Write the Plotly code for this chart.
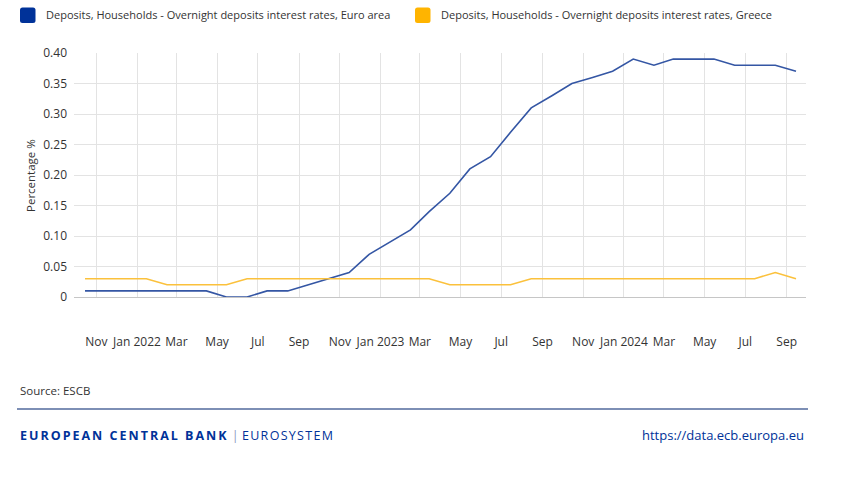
import plotly.graph_objects as go

# ---------------- data ----------------
months = [
    "2021-10", "2021-11", "2021-12",
    "2022-01", "2022-02", "2022-03", "2022-04", "2022-05", "2022-06",
    "2022-07", "2022-08", "2022-09", "2022-10", "2022-11", "2022-12",
    "2023-01", "2023-02", "2023-03", "2023-04", "2023-05", "2023-06",
    "2023-07", "2023-08", "2023-09", "2023-10", "2023-11", "2023-12",
    "2024-01", "2024-02", "2024-03", "2024-04", "2024-05", "2024-06",
    "2024-07", "2024-08", "2024-09",
]
euro_area = [
    0.01, 0.01, 0.01,
    0.01, 0.01, 0.01, 0.01, 0.00, 0.00,
    0.01, 0.01, 0.02, 0.03, 0.04, 0.07,
    0.09, 0.11, 0.14, 0.17, 0.21, 0.23,
    0.27, 0.31, 0.33, 0.35, 0.36, 0.37,
    0.39, 0.38, 0.39, 0.39, 0.39, 0.38,
    0.38, 0.38, 0.37,
]
greece = [
    0.03, 0.03, 0.03,
    0.03, 0.02, 0.02, 0.02, 0.02, 0.03,
    0.03, 0.03, 0.03, 0.03, 0.03, 0.03,
    0.03, 0.03, 0.03, 0.02, 0.02, 0.02,
    0.02, 0.03, 0.03, 0.03, 0.03, 0.03,
    0.03, 0.03, 0.03, 0.03, 0.03, 0.03,
    0.03, 0.04, 0.03,
]
series_names = [
    "Deposits, Households - Overnight deposits interest rates, Euro area",
    "Deposits, Households - Overnight deposits interest rates, Greece",
]
x_tick_months = [
    "2021-11", "2022-01", "2022-03", "2022-05", "2022-07", "2022-09",
    "2022-11", "2023-01", "2023-03", "2023-05", "2023-07", "2023-09",
    "2023-11", "2024-01", "2024-03", "2024-05", "2024-07", "2024-09",
]
x_tick_labels = [
    "Nov", "Jan 2022", "Mar", "May", "Jul", "Sep",
    "Nov", "Jan 2023", "Mar", "May", "Jul", "Sep",
    "Nov", "Jan 2024", "Mar", "May", "Jul", "Sep",
]
y_tick_values = [0, 0.05, 0.10, 0.15, 0.20, 0.25, 0.30, 0.35, 0.40]
y_tick_labels = ["0", "0.05", "0.10", "0.15", "0.20", "0.25", "0.30", "0.35", "0.40"]

# ---------------- styling ----------------
W, H = 848, 501
L, R, T, B = 74, 42, 53, 204
BLUE = "#003299"
GOLD = "#FFB400"
BLUE_LINE = "#3456a4"
GOLD_LINE = "#fbc13c"
FONT = "Open Sans"
TXT = "#333333"


def px_x(px):
    return (px - L) / (W - L - R)


def px_y(py):
    return (H - B - py) / (H - T - B)


x_dates = [m + "-15" for m in months]
tick_dates = [m + "-01" for m in x_tick_months]

fig = go.Figure()
fig.add_trace(go.Scatter(x=x_dates, y=euro_area, mode="lines", name=series_names[0],
                         line=dict(color=BLUE_LINE, width=1.6)))
fig.add_trace(go.Scatter(x=x_dates, y=greece, mode="lines", name=series_names[1],
                         line=dict(color=GOLD_LINE, width=1.6)))

fig.update_layout(
    width=W, height=H,
    margin=dict(l=L, r=R, t=T, b=B, pad=0),
    paper_bgcolor="white", plot_bgcolor="white",
    font=dict(family=FONT, size=12, color=TXT),
    showlegend=False,
)
fig.update_xaxes(
    type="date",
    range=["2021-09-28 12:00", "2024-09-30"],
    tickvals=tick_dates, ticktext=x_tick_labels,
    showgrid=True, gridcolor="#e3e3e3", gridwidth=1,
    showline=True, linecolor="#c6c6c6", linewidth=1,
    ticks="", ticklabelstandoff=34,
    tickfont=dict(family=FONT, size=12, color=TXT),
    zeroline=False, automargin=False,
)
fig.update_yaxes(
    range=[0, 0.4],
    tickvals=y_tick_values, ticktext=y_tick_labels,
    showgrid=True, gridcolor="#e3e3e3", gridwidth=1,
    zeroline=False, showline=False, ticks="", ticklabelstandoff=6,
    tickfont=dict(family=FONT, size=12, color=TXT),
    automargin=False,
)


def rounded_square(x0, y0, size, r):
    # pixel geometry -> paper-coordinate SVG path
    x1, y1 = x0 + size, y0 + size
    pts = [
        f"M {px_x(x0 + r)} {px_y(y0)}",
        f"L {px_x(x1 - r)} {px_y(y0)}",
        f"Q {px_x(x1)} {px_y(y0)} {px_x(x1)} {px_y(y0 + r)}",
        f"L {px_x(x1)} {px_y(y1 - r)}",
        f"Q {px_x(x1)} {px_y(y1)} {px_x(x1 - r)} {px_y(y1)}",
        f"L {px_x(x0 + r)} {px_y(y1)}",
        f"Q {px_x(x0)} {px_y(y1)} {px_x(x0)} {px_y(y1 - r)}",
        f"L {px_x(x0)} {px_y(y0 + r)}",
        f"Q {px_x(x0)} {px_y(y0)} {px_x(x0 + r)} {px_y(y0)}",
        "Z",
    ]
    return " ".join(pts)


# legend (manual, as in the source layout)
legend_items = [(20, series_names[0], BLUE), (415, series_names[1], GOLD)]
for lx, name, col in legend_items:
    fig.add_shape(type="path", xref="paper", yref="paper",
                  path=rounded_square(lx, 7.5, 15.5, 2.5),
                  fillcolor=col, line=dict(width=0))
    fig.add_annotation(text=name, xref="paper", yref="paper",
                       x=px_x(lx + 24), y=px_y(15), xanchor="left", yanchor="middle",
                       showarrow=False, font=dict(family=FONT, size=11, color=TXT))

# y axis title
fig.add_annotation(text="Percentage %", textangle=-90, xref="paper", yref="paper",
                   x=px_x(30), y=px_y(176), xanchor="center", yanchor="middle",
                   showarrow=False, font=dict(family=FONT, size=11.5, color=TXT))
# source
fig.add_annotation(text="Source: ESCB", xref="paper", yref="paper",
                   x=px_x(18), y=px_y(390), xanchor="left", yanchor="middle",
                   showarrow=False, font=dict(family=FONT, size=11.5, color=TXT))
# footer rule
fig.add_shape(type="line", xref="paper", yref="paper",
              x0=px_x(17), x1=px_x(808), y0=px_y(409), y1=px_y(409),
              line=dict(color="#7d8fb5", width=2))
# footer brand
fig.add_annotation(
    text=('<span style="letter-spacing:2px"><b>EUROPEAN CENTRAL BANK</b></span>'
          '<span style="color:#8a9ac0"> | </span>'
          '<span style="letter-spacing:1.3px">EUROSYSTEM</span>'),
    xref="paper", yref="paper", x=px_x(18), y=px_y(435),
    xanchor="left", yanchor="middle", showarrow=False,
    font=dict(family=FONT, size=12.5, color=BLUE))
fig.add_annotation(text="https://data.ecb.europa.eu", xref="paper", yref="paper",
                   x=px_x(806), y=px_y(435), xanchor="right", yanchor="middle",
                   showarrow=False, font=dict(family=FONT, size=13, color=BLUE))

fig.write_html("out.html")
